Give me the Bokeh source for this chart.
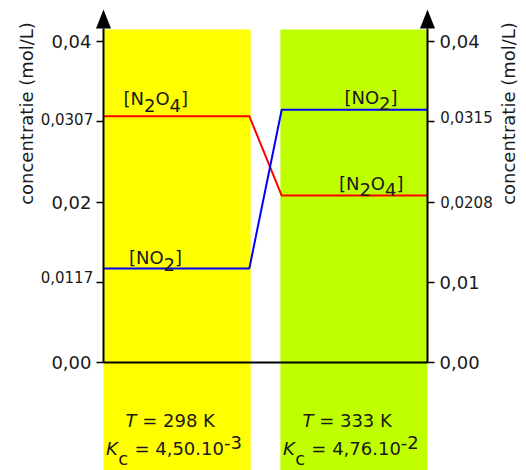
import math
from bokeh.plotting import figure
from bokeh.models import Range1d, LinearAxis, FixedTicker, Label, PolyAnnotation
from bokeh.core.properties import value
from bokeh.embed import file_html
from bokeh.resources import INLINE

# ---------------- data ----------------
progress = [0.0, 4.5, 5.5, 10.0]            # reaction course (arbitrary units)
conc_n2o4 = [0.0307, 0.0307, 0.0208, 0.0208]
conc_no2 = [0.0117, 0.0117, 0.0315, 0.0315]
band_start = [0.0, 5.46]
band_end = [4.54, 10.0]
band_colors = ["#FFFF00", "#BFFF00"]
temperatures = ["298", "333"]
kc_mantissa = ["4,50", "4,76"]
kc_exponent = ["-3", "-2"]
y_ticks = [0.0, 0.01, 0.02, 0.03, 0.04]
left_tick_labels = {0.0: "0,00", 0.02: "0,02", 0.04: "0,04"}
right_tick_labels = {0.0: "0,00", 0.01: "0,01", 0.04: "0,04"}
left_eq_values = [conc_n2o4[0], conc_no2[0]]
left_eq_labels = ["0,0307", "0,0117"]
right_eq_values = [conc_no2[-1], conc_n2o4[-1]]
right_eq_labels = ["0,0315", "0,0208"]
axis_title = "concentratie (mol/L)"

# ---------------- geometry (canvas pixels) ----------------
W, H = 526, 470
AX_L, AX_R = 103, 427          # pixel positions of the two axes
XMAX = 10.0
PX_X = (AX_R - AX_L) / XMAX
Y_ZERO = 362
PX_Y = 321 / 0.04
FONT = "DejaVu Sans"
TXT = "#1a1a1a"


def X(px):
    return (px - AX_L) / PX_X


def Y(py):
    return (Y_ZERO - py) / PX_Y


def px_of(x):
    return AX_L + x * PX_X


def py_of(y):
    return Y_ZERO - y * PX_Y


p = figure(width=W, height=H, x_range=Range1d(X(0), X(W)), y_range=Range1d(Y(H), Y(0)),
           output_backend="svg", toolbar_location=None, x_axis_location=None,
           y_axis_location="left", min_border_left=0, min_border_right=0,
           min_border_top=0, min_border_bottom=0, outline_line_color=None,
           background_fill_color="white", border_fill_color="white")
p.grid.visible = False

# bands
p.quad(left=band_start, right=band_end, bottom=[Y(H + 20)] * 2, top=[Y(29)] * 2,
       fill_color=band_colors, line_color=None)

# concentration lines
p.line(progress, conc_n2o4, line_color="#FF0000", line_width=2)
p.line(progress, conc_no2, line_color="#0000FF", line_width=2)

# axes
ax_l = p.yaxis[0]
ax_r = LinearAxis()
p.add_layout(ax_r, "right")
for ax, labels, loc in ((ax_l, left_tick_labels, 0.0), (ax_r, right_tick_labels, XMAX)):
    ax.fixed_location = loc
    ax.ticker = FixedTicker(ticks=y_ticks, minor_ticks=[])
    ax.major_label_overrides = {t: labels.get(t, "") for t in y_ticks}
    ax.bounds = (0, Y(28))
    ax.axis_line_width = 2
    ax.axis_line_color = "black"
    ax.major_tick_line_width = 1.5
    ax.major_tick_line_color = "black"
    ax.major_tick_out = 7
    ax.major_tick_in = 0
    ax.minor_tick_line_color = None
    ax.major_label_text_font = FONT
    ax.major_label_text_font_size = "18px"
    ax.major_label_text_color = TXT
    ax.major_label_standoff = 5

# baseline at 0 between the axes
p.line(x=[progress[0], progress[-1]], y=[0, 0], line_color="black", line_width=2)

# arrow heads on the axes
for xa in (0.0, XMAX):
    p.add_layout(PolyAnnotation(xs=[xa - 7.5 / PX_X, xa, xa + 7.5 / PX_X],
                                ys=[Y(28), Y(9), Y(28)],
                                fill_color="black", fill_alpha=1, line_color=None))

# small equilibrium tick labels
for v, t, off in zip(left_eq_values, left_eq_labels, [2.7, 8.6]):
    p.add_layout(Label(x=X(92.7), y=Y(py_of(v) + off), text=t, text_align="right",
                       text_baseline="alphabetic", text_font=FONT, text_font_size="15px",
                       text_color=TXT))
for v, t, off in zip(right_eq_values, right_eq_labels, [6.8, 6.6]):
    p.add_layout(Label(x=X(439.7), y=Y(py_of(v) + off), text=t, text_align="left",
                       text_baseline="alphabetic", text_font=FONT, text_font_size="15px",
                       text_color=TXT))

# rotated axis titles
for cx in (25.5, 508):
    p.add_layout(Label(x=X(cx), y=Y(113), text=axis_title, angle=math.pi / 2,
                       text_align="center", text_baseline="middle", text_font=FONT,
                       text_font_size="18px", text_color=TXT))

# rich text helper
ADV = {'[': .390, ']': .390, 'N': .748, 'O': .787, 'T': .611, ' ': .318, '=': .838,
       'K': .656, 'c': .550, ',': .318, '.': .318, '-': .361}
for d in "0123456789":
    ADV[d] = .636


def width(s, size):
    return sum(ADV.get(ch, .6) for ch in s) * size


def rich(px, py, pieces, size=18):
    """pieces: (text, shift_px, italic, extra_gap_px); leading spaces become gaps"""
    cur = px
    for text, shift, italic, gap in pieces:
        stripped = text.lstrip(" ")
        cur += gap + width(text[:len(text) - len(stripped)], size)
        p.text(x=[X(cur)], y=[Y(py + shift)], text=[stripped], text_font=value(FONT),
               text_font_size=f"{size}px", text_baseline="alphabetic", text_align="left",
               text_font_style="italic" if italic else "normal", text_color=TXT)
        cur += width(stripped, size)


SUB, SUP = 6.5, -6.0
n2o4_pieces = [("[N", 0, False, 0), ("2", SUB, False, 0), ("O", 0, False, 0),
               ("4", SUB, False, 0), ("]", 0, False, 0)]
no2_pieces = [("[NO", 0, False, 0), ("2", SUB, False, 0), ("]", 0, False, 0)]

# species labels anchored to the lines
rich(px_of(progress[0]) + 20, py_of(conc_n2o4[0]) - 17.6, n2o4_pieces)
rich(px_of(progress[0]) + 25.4, py_of(conc_no2[0]) - 10.7, no2_pieces)
rich(px_of(band_start[1]) + 64, py_of(conc_no2[-1]) - 12.5, no2_pieces)
rich(px_of(band_start[1]) + 58.5, py_of(conc_n2o4[-1]) - 12.1, n2o4_pieces)

# conditions under each band
for bs, tK, mant, ex in zip(band_start, temperatures, kc_mantissa, kc_exponent):
    bx = px_of(bs)
    rich(bx + 22, 420, [("T", 0, True, 0), (f" = {tK} K", 0, False, 0)])
    rich(bx + 2.5, 448, [("K", 0, True, 0), ("c", 9.5, False, 0.5),
                         (f" = {mant}.10", 0, False, 0.5), (ex, SUP, False, 0)])

open("out.html", "w").write(file_html(p, INLINE))
